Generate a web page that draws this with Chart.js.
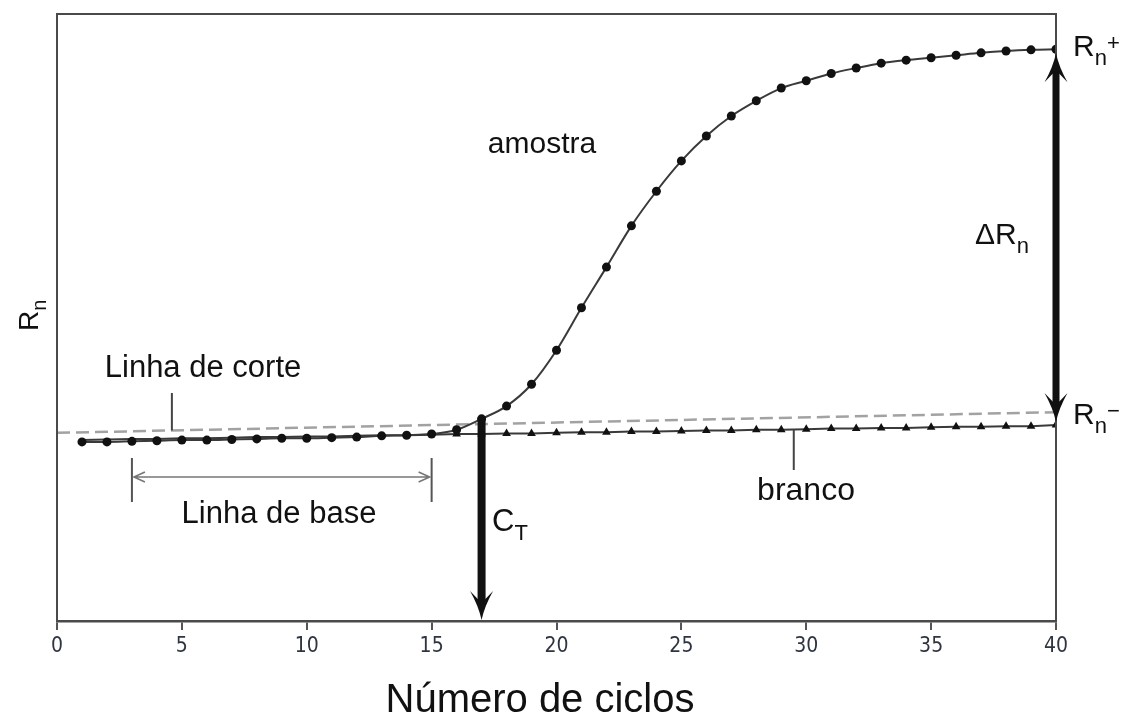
<!DOCTYPE html>
<html>
<head>
<meta charset="utf-8">
<script src="https://cdn.jsdelivr.net/npm/chart.js@4"></script>
<style>
  html, body { margin: 0; padding: 0; background: #fff; }
  #wrap { width: 1131px; height: 720px; }
</style>
</head>
<body>
<div id="wrap"><canvas id="qpcrChart" width="1131" height="720"></canvas></div>
<script>
// amplification run: cycle number vs normalised reporter signal
const cycles = [1, 2, 3, 4, 5, 6, 7, 8, 9, 10, 11, 12, 13, 14, 15, 16, 17, 18, 19, 20,
                21, 22, 23, 24, 25, 26, 27, 28, 29, 30, 31, 32, 33, 34, 35, 36, 37, 38, 39, 40];
const sampleRn = [29.5, 29.5, 29.6, 29.7, 29.8, 29.8, 29.9, 30.0, 30.1, 30.1,
                  30.2, 30.3, 30.5, 30.6, 30.8, 31.5, 33.3, 35.4, 39.0, 44.6,
                  51.6, 58.3, 65.1, 70.8, 75.8, 79.9, 83.2, 85.7, 87.8, 89.0,
                  90.2, 91.1, 91.9, 92.4, 92.8, 93.2, 93.6, 93.9, 94.1, 94.2];
const blankRn = [29.8, 29.9, 30.0, 30.0, 30.1, 30.1, 30.2, 30.3, 30.3, 30.4,
                 30.4, 30.5, 30.6, 30.6, 30.7, 30.8, 30.8, 30.9, 30.9, 31.0,
                 31.1, 31.1, 31.2, 31.2, 31.3, 31.4, 31.4, 31.5, 31.5, 31.6,
                 31.7, 31.7, 31.8, 31.8, 31.9, 32.0, 32.0, 32.1, 32.1, 32.3];
const thresholdCycles = [0, 40];
const thresholdRn = [31.0, 34.4];
const cycleTicks = [0, 5, 10, 15, 20, 25, 30, 35, 40];
const baselineCycles = [3, 15];
const ctCycle = 17;
const blankMarkersFrom = 16;

const FONT = "'Liberation Sans', Arial, Helvetica, sans-serif";
const INK = '#111';

function pts(xs, ys) {
  return xs.map((c, i) => ({ x: c, y: ys[i] }));
}

// barbed arrow head; dir = 1 points down, -1 points up
function arrowHead(ctx, x, tipY, dir) {
  const len = 29, half = 11.5, notch = 17;
  ctx.beginPath();
  ctx.moveTo(x, tipY);
  ctx.quadraticCurveTo(x - 3, tipY - dir * 14, x - half, tipY - dir * len);
  ctx.lineTo(x, tipY - dir * notch);
  ctx.lineTo(x + half, tipY - dir * len);
  ctx.quadraticCurveTo(x + 3, tipY - dir * 14, x, tipY);
  ctx.closePath();
  ctx.fill();
}

// symbol with subscript and optional superscript, e.g. R_n^+
function symbol(ctx, x, y, base, sub, sup, size) {
  ctx.font = size + 'px ' + FONT;
  ctx.textAlign = 'left';
  ctx.textBaseline = 'alphabetic';
  ctx.fillText(base, x, y);
  const w = ctx.measureText(base).width;
  ctx.font = Math.round(size * 0.72) + 'px ' + FONT;
  ctx.fillText(sub, x + w, y + size * 0.3);
  const ws = ctx.measureText(sub).width;
  if (sup) {
    ctx.fillText(sup, x + w + ws, y - size * 0.2);
  }
}

const annotations = {
  id: 'annotations',
  afterDatasetsDraw(chart) {
    const { ctx, chartArea: a, scales } = chart;
    const xs = scales.x, ys = scales.y;
    ctx.save();

    // plot frame
    ctx.strokeStyle = '#4a4a4a';
    ctx.lineWidth = 2;
    ctx.beginPath();
    ctx.moveTo(a.left, a.bottom);
    ctx.lineTo(a.left, a.top);
    ctx.lineTo(a.right, a.top);
    ctx.lineTo(a.right, a.bottom);
    ctx.stroke();

    ctx.fillStyle = '#111';

    // C_T arrow from the sample curve down to the axis
    const ctX = xs.getPixelForValue(ctCycle);
    const ctTop = ys.getPixelForValue(sampleRn[cycles.indexOf(ctCycle)]);
    ctx.fillRect(ctX - 4, ctTop, 8, a.bottom - ctTop - 17);
    arrowHead(ctx, ctX, a.bottom - 1, 1);

    // delta Rn double arrow between plateau and blank at the last cycle
    const last = cycles.length - 1;
    const endX = xs.getPixelForValue(cycles[last]);
    const topY = ys.getPixelForValue(sampleRn[last]) + 4;
    const botY = ys.getPixelForValue(blankRn[last]) - 3;
    ctx.fillRect(endX - 3.5, topY + 17, 7, botY - topY - 34);
    arrowHead(ctx, endX, topY, -1);
    arrowHead(ctx, endX, botY, 1);

    // leader lines
    ctx.strokeStyle = '#444';
    ctx.lineWidth = 2;
    const corteC = 4.6;
    const corteY = ys.getPixelForValue(thresholdRn[0] + (thresholdRn[1] - thresholdRn[0]) * corteC / 40);
    ctx.beginPath();
    ctx.moveTo(xs.getPixelForValue(corteC), 393);
    ctx.lineTo(xs.getPixelForValue(corteC), corteY);
    ctx.stroke();

    const brancoC = 29.5;
    const bi = Math.floor(brancoC) - 1;
    const brancoY = ys.getPixelForValue((blankRn[bi] + blankRn[bi + 1]) / 2);
    ctx.beginPath();
    ctx.moveTo(xs.getPixelForValue(brancoC), brancoY);
    ctx.lineTo(xs.getPixelForValue(brancoC), 470);
    ctx.stroke();

    // baseline range bracket
    const b0 = xs.getPixelForValue(baselineCycles[0]);
    const b1 = xs.getPixelForValue(baselineCycles[1]);
    ctx.strokeStyle = '#555';
    ctx.beginPath();
    ctx.moveTo(b0, 458); ctx.lineTo(b0, 502);
    ctx.moveTo(b1, 458); ctx.lineTo(b1, 502);
    ctx.stroke();
    ctx.strokeStyle = '#777';
    ctx.lineWidth = 1.6;
    const by = 477;
    ctx.beginPath();
    ctx.moveTo(b0 + 2, by); ctx.lineTo(b1 - 2, by);
    ctx.moveTo(b0 + 13, by - 5); ctx.lineTo(b0 + 2, by); ctx.lineTo(b0 + 13, by + 5);
    ctx.moveTo(b1 - 13, by - 5); ctx.lineTo(b1 - 2, by); ctx.lineTo(b1 - 13, by + 5);
    ctx.stroke();

    // text labels
    ctx.fillStyle = INK;
    ctx.textAlign = 'center';
    ctx.textBaseline = 'alphabetic';
    ctx.font = '30px ' + FONT;
    ctx.fillText('amostra', 542, 153);
    ctx.font = '31px ' + FONT;
    ctx.fillText('Linha de corte', 203, 377);
    ctx.fillText('Linha de base', 279, 523);
    ctx.font = '32px ' + FONT;
    ctx.fillText('branco', 806, 500);

    // x axis title
    ctx.font = '40px ' + FONT;
    ctx.fillText('Número de ciclos', 540, 712);

    symbol(ctx, 1073, 56, 'R', 'n', '+', 30);
    symbol(ctx, 1073, 424, 'R', 'n', '\u2212', 30);
    symbol(ctx, 975, 244, '\u0394R', 'n', null, 30);
    symbol(ctx, 492, 531, 'C', 'T', null, 31);

    // y axis title, rotated
    ctx.save();
    ctx.translate(38, 331);
    ctx.rotate(-Math.PI / 2);
    symbol(ctx, 0, 0, 'R', 'n', null, 28);
    ctx.restore();

    ctx.restore();
  }
};

new Chart(document.getElementById('qpcrChart'), {
  type: 'line',
  data: {
    datasets: [
      {
        label: 'amostra',
        data: pts(cycles, sampleRn),
        borderColor: '#3a3a3a',
        borderWidth: 2,
        pointRadius: 4.5,
        pointBackgroundColor: '#111',
        pointBorderWidth: 0,
        cubicInterpolationMode: 'monotone',
        order: 0
      },
      {
        label: 'branco',
        data: pts(cycles, blankRn),
        borderColor: '#3a3a3a',
        borderWidth: 2,
        pointStyle: 'triangle',
        pointRadius: c => (c.raw && c.raw.x >= blankMarkersFrom ? 5 : 0),
        pointBackgroundColor: '#111',
        pointBorderWidth: 0,
        order: 1
      },
      {
        label: 'Linha de corte',
        data: pts(thresholdCycles, thresholdRn),
        borderColor: '#a2a2a2',
        borderWidth: 2.5,
        borderDash: [13, 6],
        pointRadius: 0,
        order: 2
      }
    ]
  },
  options: {
    responsive: false,
    animation: false,
    devicePixelRatio: 1,
    layout: { padding: { left: 57, right: 75, top: 14, bottom: 0 } },
    plugins: {
      legend: { display: false },
      tooltip: { enabled: false }
    },
    scales: {
      x: {
        type: 'linear',
        min: 0,
        max: 40,
        afterBuildTicks: scale => { scale.ticks = cycleTicks.map(v => ({ value: v })); },
        afterFit: scale => { scale.height = 99; },
        grid: { drawOnChartArea: false, drawTicks: true, tickLength: 9, color: '#555', lineWidth: 2 },
        border: { display: true, color: '#4a4a4a', width: 2.5 },
        ticks: {
          padding: 4,
          color: '#2e3440',
          maxRotation: 0,
          font: { family: "'Liberation Sans Narrow', 'DejaVu Sans Condensed', " + FONT, size: 21 }
        },
        title: { display: false }
      },
      y: {
        display: false,
        min: 0,
        max: 100
      }
    }
  },
  plugins: [annotations]
});
</script>
</body>
</html>
